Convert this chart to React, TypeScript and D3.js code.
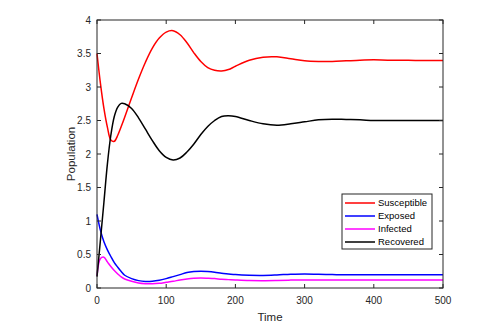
import React from "react";
import * as d3 from "d3";

// time grid (shared by all series)
const times = [0, 5, 10, 15, 20, 25, 30, 35, 40, 50, 60, 70, 80, 90, 100, 110, 120, 130, 140, 150, 160, 170, 180, 190, 200, 220, 240, 260, 280, 300, 320, 340, 360, 380, 400, 420, 440, 460, 480, 500];

const susceptible = [3.5, 3.05, 2.68, 2.4, 2.21, 2.19, 2.28, 2.41, 2.55, 2.84, 3.12, 3.37, 3.58, 3.73, 3.82, 3.84, 3.78, 3.66, 3.51, 3.38, 3.29, 3.25, 3.24, 3.26, 3.31, 3.4, 3.445, 3.45, 3.42, 3.39, 3.38, 3.38, 3.39, 3.4, 3.405, 3.4, 3.4, 3.395, 3.395, 3.395];
const exposed = [1.1, 0.86, 0.69, 0.57, 0.47, 0.38, 0.31, 0.245, 0.19, 0.14, 0.11, 0.097, 0.1, 0.115, 0.14, 0.17, 0.2, 0.23, 0.245, 0.25, 0.245, 0.235, 0.22, 0.21, 0.2, 0.19, 0.188, 0.195, 0.205, 0.21, 0.205, 0.2, 0.198, 0.197, 0.197, 0.197, 0.197, 0.197, 0.197, 0.197];
const infected = [0.18, 0.44, 0.46, 0.39, 0.32, 0.26, 0.21, 0.165, 0.135, 0.1, 0.075, 0.065, 0.063, 0.07, 0.085, 0.1, 0.12, 0.135, 0.145, 0.148, 0.145, 0.14, 0.13, 0.125, 0.12, 0.112, 0.11, 0.113, 0.118, 0.12, 0.119, 0.118, 0.118, 0.118, 0.118, 0.118, 0.118, 0.118, 0.118, 0.118];
const recovered = [0.17, 0.72, 1.28, 1.85, 2.28, 2.56, 2.7, 2.755, 2.75, 2.68, 2.54, 2.37, 2.2, 2.05, 1.95, 1.91, 1.94, 2.03, 2.15, 2.29, 2.41, 2.5, 2.56, 2.57, 2.56, 2.5, 2.45, 2.43, 2.45, 2.48, 2.51, 2.52, 2.515, 2.51, 2.5, 2.5, 2.5, 2.5, 2.5, 2.5];

const seriesNames = ["Susceptible", "Exposed", "Infected", "Recovered"];
const seriesColors = ["#ff0000", "#0000ff", "#ff00ff", "#000000"];
const seriesValues = [susceptible, exposed, infected, recovered];

const xTicks = [0, 100, 200, 300, 400, 500];
const yTicks = [0, 0.5, 1, 1.5, 2, 2.5, 3, 3.5, 4];

export default function App() {
  const width = 498;
  const height = 334;
  const margin = { top: 20, right: 55, bottom: 46, left: 97 };
  const axisColor = "#262626";
  const font = "'Liberation Sans', Arial, sans-serif";

  const x = d3.scaleLinear().domain([0, 500]).range([margin.left, width - margin.right]);
  const y = d3.scaleLinear().domain([0, 4]).range([height - margin.bottom, margin.top]);

  const line = d3
    .line<number>()
    .x((_, i) => x(times[i]))
    .y((d) => y(d))
    .curve(d3.curveCatmullRom.alpha(0.5));

  const tickLen = 4;
  const legend = { x: 342, y: 194, w: 90, h: 55 };

  return (
    <svg
      width={width}
      height={height}
      style={{ position: "absolute", left: 0, top: 0, background: "#fff" }}
      fontFamily={font}
    >
      {/* curves */}
      {seriesValues.map((vals, i) => (
        <path key={seriesNames[i]} d={line(vals) ?? ""} fill="none" stroke={seriesColors[i]} strokeWidth={1.5} />
      ))}

      {/* axes box */}
      <rect
        x={x(0)}
        y={y(4)}
        width={x(500) - x(0)}
        height={y(0) - y(4)}
        fill="none"
        stroke={axisColor}
        strokeWidth={1}
      />

      {/* x ticks */}
      {xTicks.map((t) => (
        <g key={"x" + t}>
          <line x1={x(t)} x2={x(t)} y1={y(0)} y2={y(0) - tickLen} stroke={axisColor} />
          <line x1={x(t)} x2={x(t)} y1={y(4)} y2={y(4) + tickLen} stroke={axisColor} />
          <text x={x(t)} y={y(0) + 15.5} textAnchor="middle" fontSize={10} fill={axisColor}>
            {t}
          </text>
        </g>
      ))}

      {/* y ticks */}
      {yTicks.map((t) => (
        <g key={"y" + t}>
          <line x1={x(0)} x2={x(0) + tickLen} y1={y(t)} y2={y(t)} stroke={axisColor} />
          <line x1={x(500)} x2={x(500) - tickLen} y1={y(t)} y2={y(t)} stroke={axisColor} />
          <text x={x(0) - 6} y={y(t) + 3.5} textAnchor="end" fontSize={10} fill={axisColor}>
            {t}
          </text>
        </g>
      ))}

      {/* axis titles */}
      <text x={(x(0) + x(500)) / 2} y={321} textAnchor="middle" fontSize={11.5} fill={axisColor}>
        Time
      </text>
      <text
        transform={`translate(74.5,${(y(0) + y(4)) / 2}) rotate(-90)`}
        textAnchor="middle"
        fontSize={11.5}
        fill={axisColor}
      >
        Population
      </text>

      {/* legend */}
      <rect x={legend.x} y={legend.y} width={legend.w} height={legend.h} fill="#fff" stroke={axisColor} strokeWidth={1} />
      {seriesNames.map((name, i) => {
        const ly = legend.y + 9 + i * 13;
        return (
          <g key={"l" + name}>
            <line x1={legend.x + 3} x2={legend.x + 33} y1={ly} y2={ly} stroke={seriesColors[i]} strokeWidth={1.5} />
            <text x={legend.x + 36} y={ly + 3.3} fontSize={9.5} fill="#000">
              {name}
            </text>
          </g>
        );
      })}
    </svg>
  );
}
